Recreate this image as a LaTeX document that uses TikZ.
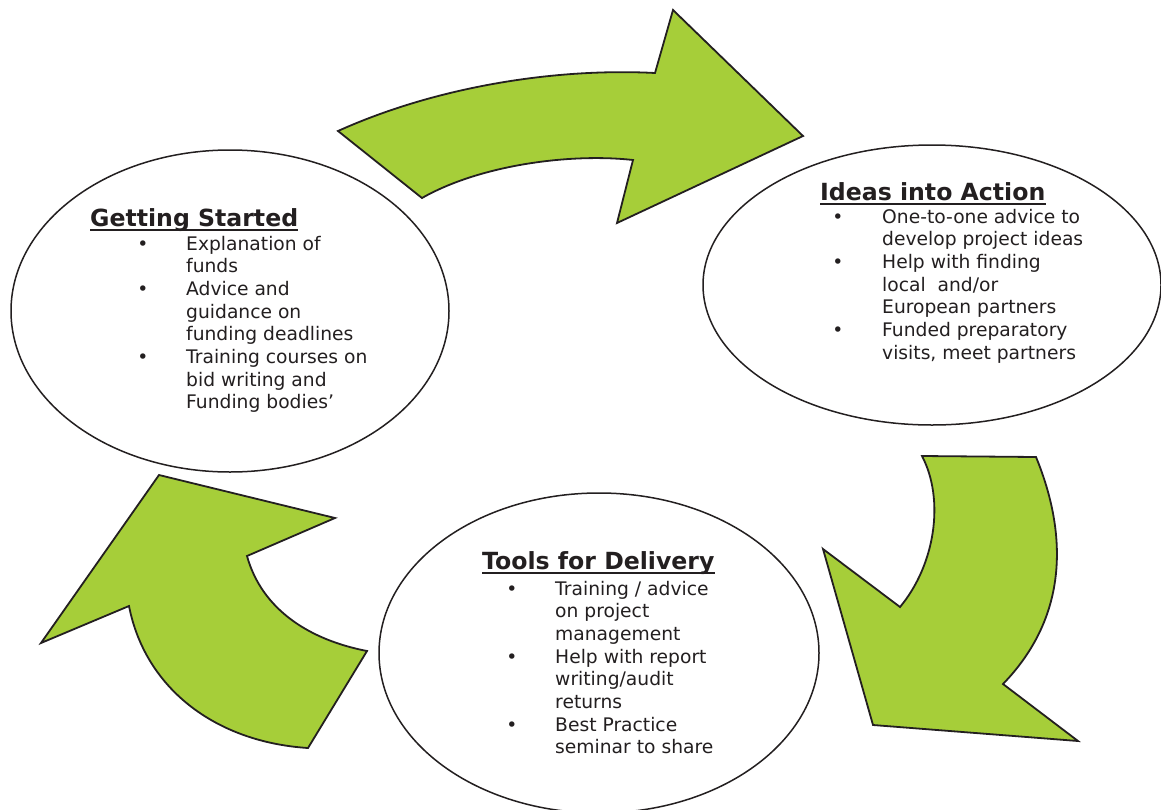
\documentclass[tikz,border=0pt]{standalone}
\usepackage{fontspec}
\setmainfont{DejaVu Sans}
\usetikzlibrary{shapes.geometric}
\definecolor{leaf}{RGB}{166,206,57}
\definecolor{ink}{RGB}{35,31,32}
\begin{document}
\begin{tikzpicture}[x=1pt,y=-1pt,
  arrowshape/.style={fill=leaf,draw=ink,line width=1.8pt,line join=miter},
  bubble/.style={shape=ellipse,draw=ink,fill=white,line width=1.5pt,inner sep=0pt},
  ttl/.style={anchor=base west,inner sep=0pt,font=\fontsize{23.6}{28}\selectfont\bfseries,text=ink},
  itm/.style={anchor=base west,inner sep=0pt,font=\fontsize{18.7}{22.7}\selectfont,text=ink},
  bul/.style={anchor=base,inner sep=0pt,font=\fontsize{18.7}{22.7}\selectfont,text=ink},
  uline/.style={draw=ink,line width=1.9pt}]
\useasboundingbox (0,0) rectangle (1161,809);
\clip (0,0) rectangle (1161,809);
\fill[white] (0,0) rectangle (1161,809);

% arrows
\draw[arrowshape] (338,131) .. controls (440,85) and (560,68) .. (655,73)
  -- (673,10) -- (803,136) -- (617,223) -- (633,160)
  .. controls (570,153) and (480,165) .. (422,198) -- cycle;
\draw[arrowshape] (922,456) -- (1036,457)
  .. controls (1070,540) and (1065,620) .. (1003,684)
  -- (1078,741) -- (873,725) -- (823,549) -- (900,607)
  .. controls (935,565) and (945,500) .. (922,456) -- cycle;
\draw[arrowshape] (159,475) -- (335,518) -- (247,556)
  .. controls (262,610) and (310,640) .. (367,651)
  -- (308,748) .. controls (215,742) and (145,688) .. (129,606)
  -- (41,643) -- cycle;

% ellipses
\node[bubble,minimum width=438pt,minimum height=322pt] (gs) at (230,311) {};
\node[bubble,minimum width=458pt,minimum height=280pt] (ia) at (932,285) {};
\node[bubble,minimum width=440pt,minimum height=320pt] (td) at (599,653) {};

% Getting Started
\node[ttl] (gsT) at (90,226) {Getting Started};
\draw[uline] ([yshift=-4pt]gsT.base west) -- ([yshift=-4pt]gsT.base east);
\foreach \t [count=\i from 0] in {Explanation of,funds,Advice and,guidance on,funding deadlines,Training courses on,bid writing and,Funding bodies’}
  \node[itm] (gs\i) at (186,250+22.7*\i) {\t};
\foreach \k in {0,2,5}
  \node[bul] (gsb\k) at (143,250+22.7*\k) {•};

% Ideas into Action
\node[ttl] (iaT) at (820,200) {Ideas into Action};
\draw[uline] ([yshift=-4pt]iaT.base west) -- ([yshift=-4pt]iaT.base east);
\foreach \t [count=\i from 0] in {One-to-one advice to,develop project ideas,Help with finding,local\ \ and/or,European partners,Funded preparatory,{visits, meet partners}}
  \node[itm] (ia\i) at (882,223+22.7*\i) {\t};
\foreach \k in {0,2,5}
  \node[bul] (iab\k) at (838,223+22.7*\k) {•};

% Tools for Delivery
\node[ttl] (tdT) at (482,569) {Tools for Delivery};
\draw[uline] ([yshift=-4pt]tdT.base west) -- ([yshift=-4pt]tdT.base east);
\foreach \t [count=\i from 0] in {Training / advice,on project,management,Help with report,writing/audit,returns,Best Practice,seminar to share}
  \node[itm] (td\i) at (555,595+22.7*\i) {\t};
\foreach \k in {0,3,6}
  \node[bul] (tdb\k) at (512,595+22.7*\k) {•};
\end{tikzpicture}
\end{document}
